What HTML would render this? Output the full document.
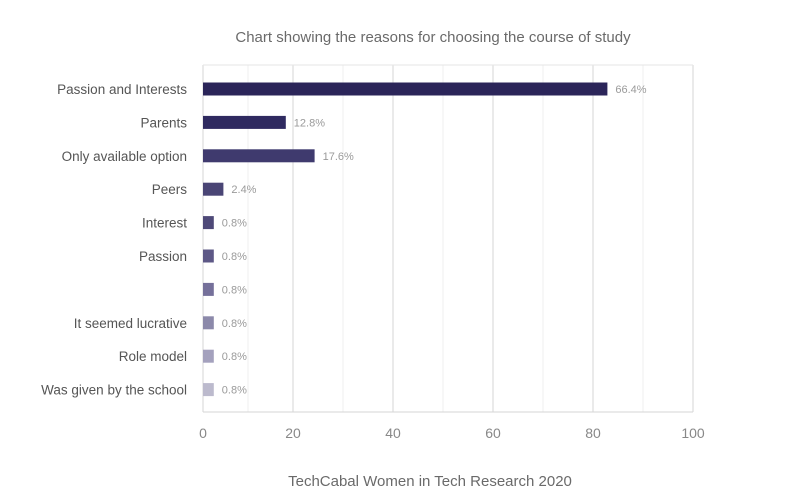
<!DOCTYPE html>
<html><head><meta charset="utf-8"><style>
html,body{margin:0;padding:0;background:#fff;}
svg{display:block;font-family:"Liberation Sans",sans-serif;}
</style></head><body>
<svg id="chart" width="800" height="500">
<text x="433" y="42" text-anchor="middle" font-size="15" fill="#6a6a6a">Chart showing the reasons for choosing the course of study</text>
<g id="grid"></g><g id="bars"></g><g id="ylabels"></g><g id="xticks"></g>
<text x="430" y="486" text-anchor="middle" font-size="15" fill="#6a6a6a">TechCabal Women in Tech Research 2020</text>
</svg>
<script>
const categories=["Passion and Interests","Parents","Only available option","Peers","Interest","Passion","","It seemed lucrative","Role model","Was given by the school"];
const values=[66.4,12.8,17.6,2.4,0.8,0.8,0.8,0.8,0.8,0.8];
const valueLabels=["66.4%","12.8%","17.6%","2.4%","0.8%","0.8%","0.8%","0.8%","0.8%","0.8%"];
const xTicks=[0,20,40,60,80,100];
const colors=["#2b2559","#2f2a60","#3f3a6e","#4a4575","#4e4978","#5d5886","#75709a","#8c89aa","#a4a1bd","#bcbacd"];
const NS="http://www.w3.org/2000/svg";
const top0=65,bot=412,x0=203;
function axisX(v){return v<=20? x0+4.5*v : 293+5*(v-20);}
function barW(v){return 6+v*6.0;}
function rowY(i){return 89+i*33.4;}
function mk(t,a,p){const e=document.createElementNS(NS,t);for(const k in a)e.setAttribute(k,a[k]);p.appendChild(e);return e;}
const grid=document.getElementById('grid');
for(let v=0;v<=100;v+=10){
 const x=axisX(v);
 const l=mk('line',{x1:x,x2:x,y1:top0,y2:bot,stroke:v%20===0?'#d6d6d6':'#efefef','stroke-width':1},grid);
 
 
}
const tl=mk('line',{x1:x0,x2:axisX(100),y1:top0,y2:top0,stroke:'#e6e6e6'},grid);


const bl=mk('line',{x1:x0,x2:axisX(100),y1:bot,y2:bot,stroke:'#d6d6d6'},grid);


const bars=document.getElementById('bars'),yl=document.getElementById('ylabels'),xt=document.getElementById('xticks');
values.forEach((v,i)=>{
 const y=rowY(i),w=barW(v);
 const r=mk('rect',{x:x0,y:y-6.5,width:w,height:13,fill:colors[i]},bars);
 
 
 const t=mk('text',{x:x0+w+8,y:y+4,'font-size':11,fill:'#9a9a9a'},bars);
 t.textContent=valueLabels[i];
 
 
 const c=mk('text',{x:187,y:y+5,'font-size':13.5,fill:'#555','text-anchor':'end'},yl);
 c.textContent=categories[i];
 
 
});
xTicks.forEach(v=>{
 const t=mk('text',{x:axisX(v),y:438,'font-size':14,fill:'#888','text-anchor':'middle'},xt);
 t.textContent=v;
 
 
});
</script>
</body></html>
